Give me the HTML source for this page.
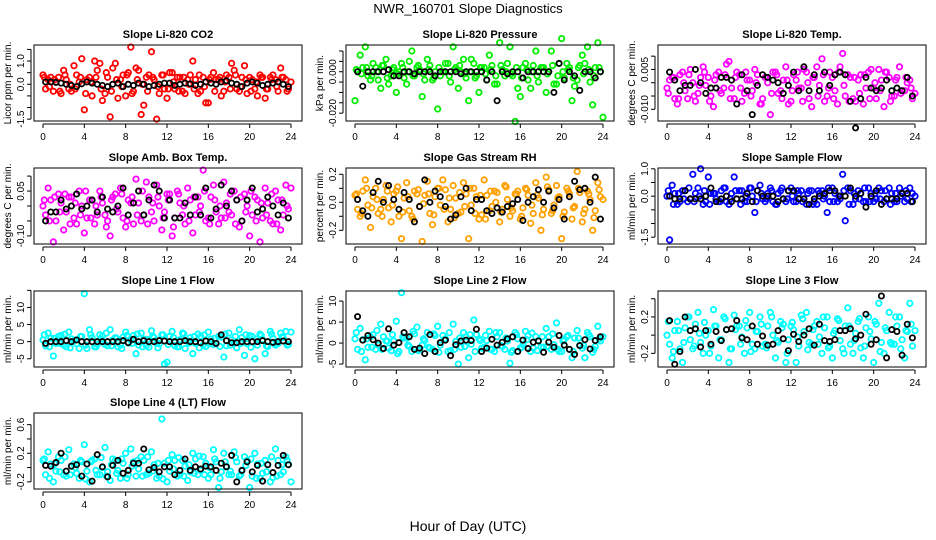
<!DOCTYPE html>
<html><head><meta charset="utf-8">
<style>
html,body{margin:0;padding:0;background:#fff;}
svg{display:block;font-family:"Liberation Sans",sans-serif;}
</style></head>
<body>
<svg id="chart" width="936" height="540" viewBox="0 0 936 540" xmlns="http://www.w3.org/2000/svg">
<rect width="936" height="540" fill="#fff"/>
<text x="468" y="13" text-anchor="middle" font-size="13">NWR_160701  Slope Diagnostics</text>
<text x="468" y="531" text-anchor="middle" font-size="14">Hour of Day (UTC)</text>
</svg>
<script>
const hoursA=[0,0.5,1,1.5,2,2.5,3,3.5,4,4.5,5,5.5,6,6.5,7,7.5,8,8.5,9,9.5,10,10.5,11,11.5,12,12.5,13,13.5,14,14.5,15,15.5,16,16.5,17,17.5,18,18.5,19,19.5,20,20.5,21,21.5,22,22.5,23,23.5,24];
const hoursB=[0.25,0.75,1.25,1.75,2.25,2.75,3.25,3.75,4.25,4.75,5.25,5.75,6.25,6.75,7.25,7.75,8.25,8.75,9.25,9.75,10.25,10.75,11.25,11.75,12.25,12.75,13.25,13.75,14.25,14.75,15.25,15.75,16.25,16.75,17.25,17.75,18.25,18.75,19.25,19.75,20.25,20.75,21.25,21.75,22.25,22.75,23.25,23.75];
const hoursC=[0.125,0.625,1.125,1.625,2.125,2.625,3.125,3.625,4.125,4.625,5.125,5.625,6.125,6.625,7.125,7.625,8.125,8.625,9.125,9.625,10.125,10.625,11.125,11.625,12.125,12.625,13.125,13.625,14.125,14.625,15.125,15.625,16.125,16.625,17.125,17.625,18.125,18.625,19.125,19.625,20.125,20.625,21.125,21.625,22.125,22.625,23.125,23.625];
const xTicks=[0,4,8,12,16,20,24];

const co2A=[0.4,0.2,-0.3,0.3,0.6,-0.2,0.8,0.1,-1.1,0.3,1.0,0.9,-0.4,-1.4,0.9,0.2,-0.5,1.6,0.7,-1.3,0.3,1.4,-1.5,0.4,-0.6,0.5,0.3,-0.3,0.2,1.0,-0.4,0.3,-0.8,0.5,0.2,-0.3,0.3,0.6,-0.3,0.8,0.3,-0.2,0.4,-0.6,0.3,0.2,0.7,0.2,0.1];
const co2B=[-0.2,0.3,0.1,-0.4,0.2,-0.3,0.4,1.1,0.2,-0.5,0.6,-0.7,0.3,0.7,-0.6,0.4,0.5,-0.3,0.6,-0.9,0.4,0.2,-0.4,-0.2,0.5,-0.2,0.3,-0.4,0.4,0.2,-0.3,-0.8,0.3,0.2,-0.5,0.4,0.9,-0.2,0.3,-0.4,0.2,-0.5,0.3,-0.2,0.4,-0.3,0.3,-0.2];
const co2C=[0.3,-0.1,0.2,-0.3,0.4,0.0,-0.2,0.3,-0.4,0.1,0.3,-0.2,0.5,-0.3,0.2,-0.1,0.4,-0.4,0.2,0.0,-0.3,0.3,-0.1,0.4,-0.2,0.1,-0.3,0.3,0.0,-0.2,0.4,-0.1,0.2,-0.3,0.3,0.1,-0.2,0.4,-0.1,0.2,-0.3,0.1,0.3,-0.2,0.2,-0.1,0.3,-0.3];
const co2K=[0.1,0.1,0.08,0.05,0,-0.05,-0.1,0.02,0.1,0.05,0,-0.05,-0.1,0.0,0.05,-0.1,0,-0.05,0.05,0,-0.1,-0.05,0,0.05,0.05,-0.05,0,0.05,0.02,-0.05,0,0.1,0.05,0,0.1,0.15,0.05,0,-0.1,0.05,0.1,0.05,-0.05,0,0.05,0.1,0,-0.1];

const presA=[-0.014,0.008,0.012,-0.004,0.002,-0.008,0.006,-0.002,-0.010,0.004,-0.006,0.010,0.002,-0.012,0.006,-0.004,-0.018,0.000,0.004,0.012,-0.008,0.006,-0.014,0.004,-0.010,0.002,0.008,-0.006,0.014,-0.002,0.012,-0.024,-0.012,0.004,-0.008,0.010,0.002,-0.010,0.010,-0.006,0.016,0.004,-0.014,-0.004,0.008,0.012,-0.016,0.014,-0.022];
const presB=[0,0.002,-0.002,0.004,-0.004,0.003,-0.006,0.002,0,-0.003,0.005,-0.002,0.001,-0.004,0.003,0,-0.002,0.004,-0.005,0.002,0,-0.003,0.006,-0.002,0.002,-0.004,0.003,-0.006,0.001,0.004,-0.002,-0.008,0.002,-0.004,0.003,-0.005,0.002,0,-0.006,0.004,-0.003,0.002,-0.007,0.003,0.004,-0.005,0.002,0];
const presC=[0.001,-0.001,0.002,-0.002,0,0.003,-0.003,0.001,-0.001,0.002,0,-0.002,0.003,-0.001,0.001,-0.003,0.002,0,-0.002,0.001,0.003,-0.001,0,-0.003,0.002,-0.001,0.001,-0.002,0.003,0,-0.001,0.002,-0.003,0.001,0,-0.002,0.002,-0.001,0.003,-0.002,0,0.001,-0.003,0.002,-0.001,0.001,-0.002,0.002];
const presK=[0,-0.007,0,0,0,0,0.001,-0.002,-0.002,0,0,-0.001,0,0,0,-0.002,0,0,0,0,-0.001,0,0,0,0,-0.004,0,-0.014,0,-0.001,0,0,-0.003,0,0,0,0,0,-0.010,0.004,-0.004,0,-0.002,-0.009,0,0,-0.003,0];

const tempA=[-0.002,0.002,-0.008,0.004,-0.006,0.000,-0.004,0.006,0.002,-0.009,0.004,-0.002,0.008,-0.006,0.003,-0.004,0.001,0.005,-0.008,0.002,-0.012,0.004,-0.003,0.006,-0.007,0.001,-0.002,0.004,-0.009,0.006,0.009,-0.005,0.002,-0.008,0.011,0.003,-0.006,0.001,-0.008,0.004,-0.002,0.005,-0.009,0.002,-0.005,0.006,-0.003,0.001,-0.004];
const tempB=[0.001,-0.006,0.003,-0.003,0.005,-0.007,0.002,-0.001,-0.005,0.003,-0.004,0.007,-0.002,0.004,-0.007,0.001,-0.003,0.003,-0.006,0.000,0.004,-0.004,0.001,-0.008,0.003,-0.002,0.005,-0.006,0.002,-0.001,-0.007,0.004,-0.003,0.006,-0.005,0.002,-0.007,0.003,-0.002,0.005,-0.006,0.001,0.004,-0.005,0.002,-0.003,0.000,-0.006];
const tempC=[-0.004,0.002,-0.006,0.000,0.003,-0.005,-0.001,0.004,-0.007,0.001,-0.003,0.003,-0.006,0.002,-0.002,0.004,-0.005,0.000,-0.008,0.002,-0.004,0.003,-0.006,0.001,-0.003,0.004,-0.007,0.000,0.002,-0.005,0.003,-0.002,-0.006,0.004,-0.001,-0.007,0.002,-0.004,0.003,-0.006,0.000,-0.003,0.004,-0.007,0.001,-0.004,0.002,-0.002];
const tempK=[0.004,0.001,-0.003,-0.001,-0.001,0.005,0.000,-0.004,-0.002,-0.002,0.002,0.002,0.001,-0.008,0.003,-0.003,-0.012,-0.001,0.003,0.002,0.001,0.000,-0.004,-0.001,0.004,-0.003,0.006,-0.003,0.003,-0.003,0.004,-0.001,0.003,0.004,0.003,-0.007,-0.017,-0.006,0.002,-0.002,-0.003,-0.002,0.001,-0.003,-0.002,-0.003,0.002,-0.005];

const ambA=[0.0,0.06,-0.12,0.04,-0.08,0.03,-0.04,0.05,-0.09,0.02,-0.06,0.05,-0.03,-0.1,0.04,0.06,-0.07,0.01,0.09,-0.05,0.08,-0.02,0.07,-0.08,0.04,-0.1,0.05,-0.03,0.06,-0.09,0.03,0.12,-0.04,0.07,-0.06,0.08,-0.02,0.05,-0.07,0.04,-0.1,0.03,-0.12,0.06,-0.05,0.05,-0.08,0.07,0.06];
const ambB=[-0.03,0.02,-0.05,0.01,-0.02,0.03,-0.06,0.0,-0.04,0.02,-0.03,0.01,-0.05,0.03,-0.02,-0.04,0.02,-0.06,0.01,-0.03,0.03,-0.05,0.0,-0.02,0.04,-0.04,0.01,-0.06,0.02,-0.03,0.0,-0.05,0.03,-0.02,-0.04,0.01,-0.03,0.02,-0.05,0.0,-0.03,0.02,-0.04,0.01,-0.06,0.02,-0.03,-0.01];
const ambC=[0.02,-0.05,0.03,-0.02,0.04,-0.06,0.01,-0.03,0.05,-0.04,0.0,0.03,-0.07,0.02,-0.01,0.04,-0.05,0.03,-0.03,0.05,-0.06,0.01,0.03,-0.04,0.02,-0.07,0.04,0.0,-0.05,0.03,-0.02,0.05,-0.06,0.02,0.0,-0.04,0.04,-0.06,0.03,-0.02,0.05,-0.05,0.01,-0.03,0.04,-0.06,0.02,0.0];
const ambK=[-0.05,-0.02,-0.02,0.02,-0.01,0.0,0.04,-0.01,0.0,0.02,-0.02,0.03,-0.01,-0.02,0.0,0.06,-0.03,0.01,0.05,-0.03,0.02,0.07,0.05,-0.04,0.02,-0.04,-0.04,0.01,-0.03,0.03,-0.03,0.06,-0.04,-0.01,0.07,0.0,0.05,0.02,-0.05,0.02,0.06,-0.02,-0.01,0.03,0.0,-0.03,0.01,-0.04];

const rhA=[0.05,-0.1,0.16,-0.18,0.1,-0.05,0.12,-0.14,0.08,-0.26,0.14,-0.1,0.06,-0.28,0.15,-0.16,0.1,0.16,-0.14,0.12,-0.08,0.14,-0.26,0.1,-0.12,0.16,-0.06,0.08,-0.14,0.12,-0.1,0.06,-0.12,0.1,-0.15,0.14,-0.2,0.18,-0.08,0.12,-0.26,0.1,-0.12,0.22,-0.14,0.08,-0.2,0.14,0.02];
const rhB=[-0.05,0.08,-0.02,0.04,-0.08,0.02,-0.04,0.06,-0.1,0.03,-0.06,0.08,-0.03,0.05,-0.08,0.04,-0.02,0.09,-0.05,0.03,-0.07,0.06,-0.02,0.04,-0.09,0.05,-0.03,0.07,-0.05,0.02,-0.06,0.08,-0.04,0.05,-0.08,0.03,-0.05,0.09,-0.02,0.04,-0.07,0.06,-0.03,0.07,-0.05,0.02,-0.06,0.04];
const rhC=[0.06,-0.08,0.1,-0.04,0.02,-0.1,0.08,-0.02,0.11,-0.07,0.04,-0.12,0.09,-0.01,0.06,-0.09,0.1,-0.05,0.03,-0.11,0.07,-0.03,0.1,-0.08,0.05,-0.12,0.08,0.0,-0.07,0.11,-0.04,0.06,-0.1,0.09,-0.02,0.05,-0.09,0.11,-0.06,0.03,-0.1,0.08,-0.04,0.1,-0.08,0.06,-0.11,0.09];
const rhK=[0.02,-0.06,-0.1,0.07,0.15,0.0,0.12,0.02,-0.05,0.07,0.02,-0.14,-0.03,0.16,0.0,0.08,0.04,-0.03,-0.12,-0.09,0.04,0.1,-0.06,0.02,0.02,-0.06,-0.08,-0.04,-0.07,-0.03,-0.01,0.02,-0.13,0.0,0.04,0.09,0.0,0.08,-0.04,0.02,-0.12,0.04,0.15,0.09,0.1,0.0,0.18,-0.12];

const sampA=[0.0,0.4,-0.3,0.2,-0.2,0.8,0.3,-0.3,0.7,0.1,-0.2,0.3,-0.3,0.7,0.2,-0.2,0.3,-0.6,0.4,-0.2,0.3,-0.3,0.2,-0.2,0.3,-0.2,0.2,-0.3,0.2,-0.3,0.2,-0.6,0.3,-0.2,0.8,0.3,-0.3,0.2,-0.2,0.3,-0.2,0.3,-0.2,0.3,-0.2,0.3,-0.2,0.3,0.0];
const sampB=[-1.6,0.1,-0.2,0.2,-0.1,0.1,1.0,-0.2,0.1,-0.1,0.2,-0.2,0.1,-0.1,0.2,-0.2,0.0,0.2,-0.1,0.1,-0.2,0.1,-0.1,0.2,-0.2,0.1,-0.1,0.2,-0.2,0.1,0.0,-0.2,0.1,-0.1,-0.9,0.2,-0.1,0.1,-0.2,0.1,-0.1,0.2,-0.1,0.1,-0.2,0.1,-0.1,0.1];
const sampC=[0.2,-0.3,0.1,-0.1,0.3,-0.2,0.0,0.2,-0.3,0.1,-0.2,0.3,-0.1,0.2,-0.3,0.0,0.3,-0.2,0.1,-0.1,0.2,-0.3,0.3,-0.1,0.0,0.2,-0.2,0.1,-0.3,0.2,-0.1,0.3,-0.2,0.0,0.2,-0.3,0.1,-0.1,0.3,-0.2,0.1,-0.1,0.2,-0.3,0.1,0.0,0.2,-0.2];
const sampK=[0.0,-0.1,-0.1,0.2,-0.1,-0.1,-0.1,0.0,0.3,-0.2,-0.1,0.0,-0.2,-0.1,-0.1,0.1,-0.2,0.2,0.0,0.0,0.0,-0.2,-0.1,0.2,0.2,-0.1,-0.1,-0.3,-0.1,0.0,0.1,0.2,0.2,0.0,0.0,0.3,0.0,0.1,-0.4,0.0,0.2,-0.3,-0.1,-0.1,-0.1,0.1,0.1,-0.2];

const l1A=[0.5,2.5,-4.2,1.5,-1.0,2.8,0.2,-2.0,14.0,3.5,-1.5,2.0,-0.8,3.5,1.2,-1.0,2.8,0.4,-3.5,2.5,-1.2,3.2,-0.5,2.0,-6.0,3.0,-1.5,2.5,0.2,-3.5,2.2,-1.0,2.8,-0.8,1.5,-4.5,2.5,-0.5,3.5,-4.0,1.8,-5.0,2.2,-3.5,3.0,-1.0,2.5,3.0,2.8];
const l1B=[-1.2,1.0,-0.5,1.8,-1.5,0.8,-0.6,1.5,-2.0,1.2,-0.8,1.6,-1.2,0.5,-1.5,1.3,-0.4,1.8,-1.0,0.8,-1.6,1.2,-0.6,-6.5,1.5,-1.2,0.6,-2.0,1.2,-0.5,1.6,-1.4,0.8,-0.6,1.3,-1.2,0.5,-1.8,1.2,-0.6,1.5,-1.0,0.6,-1.4,1.0,-0.5,1.2,-0.8];
const l1C=[2.0,-1.5,1.0,-0.5,2.2,-1.8,0.5,1.5,-1.0,2.0,-1.5,0.8,2.5,-1.2,1.0,-2.0,1.8,-0.5,2.2,-1.5,0.6,1.6,-1.8,2.0,-0.8,1.2,-1.5,2.3,-0.4,1.5,-1.8,2.0,-0.6,1.0,-1.4,2.2,-1.0,1.5,-0.5,2.0,-1.6,0.8,1.8,-1.2,2.2,-0.6,1.4,-1.0];
const l1K=[-0.5,0,0,0,0.3,0,0.5,0,0,0,0,0,0,0,0,0.3,-0.3,0.7,0,0.3,0,0,0.3,0.2,0,0,0,0.3,0,0,-0.3,0.2,0,-0.5,2.0,0.3,-0.3,-0.3,0,0,0,0,0.3,0,-0.2,0,0.2,0];

const l2A=[1.0,3.5,-4.0,1.5,-1.5,4.5,0.5,-1.8,5.2,12.0,1.2,-2.0,3.8,-0.5,2.5,-1.5,4.0,1.8,-2.0,4.5,-5.0,2.5,-3.5,5.5,1.0,-1.0,2.8,-2.0,2.5,-1.5,-4.8,2.5,-1.2,2.8,-2.0,1.5,-1.0,3.5,-1.5,4.8,-2.0,1.5,-3.5,3.0,-1.2,2.5,-2.2,4.0,1.5];
const l2B=[-1.5,0.8,-1.0,2.0,-0.5,1.5,-1.2,0.5,-2.0,1.2,-0.8,2.2,-1.5,0.6,-1.2,1.8,-0.5,1.0,-1.8,0.4,-1.0,1.5,-0.3,2.0,-1.2,0.6,-1.5,1.5,-0.8,0.5,-1.8,1.0,-0.4,1.8,-1.2,0.6,-1.0,1.5,-0.4,-2.0,0.8,-1.5,1.2,-0.5,-3.5,1.5,-0.8,0.5];
const l2C=[2.5,-2.0,1.0,-1.0,3.0,-1.5,0.5,2.0,-2.5,1.5,-0.5,2.8,-1.8,1.0,-1.0,2.2,-2.2,0.8,2.5,-1.5,1.2,-0.8,2.0,-2.0,0.6,1.8,-1.5,2.5,-0.6,1.2,-2.2,2.0,-1.0,0.8,2.4,-1.8,1.5,-0.8,2.2,-1.5,0.5,1.8,-2.0,1.2,-0.6,2.0,-1.5,1.0];
const l2K=[6.3,0.7,1.8,0.8,0,-1.3,3.4,-0.5,0.1,2.5,1.5,-1.5,-1.2,-2.5,2.0,-2.0,0.1,0.7,-3.0,-0.4,0.5,0.7,0.6,3.3,-2.0,-1.2,0.9,-0.5,0.2,1.0,1.5,-2.0,0.7,-1.3,0.2,0.5,-2.2,0.2,-1.0,1.8,-0.5,-1.5,-2.7,-0.6,0.8,-1.4,0.6,1.5];

const l3A=[0.0,-0.25,0.15,-0.3,0.2,-0.15,0.25,-0.2,0.05,0.28,-0.25,0.2,-0.3,0.22,0.1,-0.2,0.25,-0.15,0.2,-0.1,0.25,-0.25,0.15,-0.3,0.1,-0.3,0.22,0.25,-0.1,0.15,-0.2,0.2,-0.25,0.18,-0.15,0.3,-0.2,0.15,-0.25,0.2,-0.3,0.35,-0.2,0.25,-0.1,0.2,-0.25,0.35,0.05];
const l3B=[-0.1,0.05,-0.15,0.08,-0.05,0.12,-0.08,0.0,-0.12,0.1,-0.05,0.06,-0.15,0.1,-0.02,0.08,-0.1,0.04,-0.12,0.1,0.0,-0.08,0.12,-0.05,0.06,-0.12,0.04,-0.08,0.1,-0.02,0.08,-0.12,0.05,-0.06,0.1,-0.1,0.02,-0.14,0.08,-0.04,0.12,-0.08,0.05,-0.1,0.1,-0.05,0.04,-0.12];
const l3C=[0.15,-0.18,0.05,-0.08,0.2,-0.12,0.02,0.14,-0.2,0.1,-0.05,0.18,-0.15,0.06,-0.1,0.16,-0.18,0.04,0.12,-0.14,0.2,-0.06,0.08,-0.2,0.14,-0.02,0.18,-0.16,0.06,-0.1,0.2,-0.14,0.02,0.16,-0.2,0.1,-0.06,0.18,-0.12,0.04,0.15,-0.18,0.08,-0.08,0.2,-0.15,0.05,0.12];
const l3K=[0.16,-0.32,-0.18,0.2,0.05,0.07,-0.13,0.05,-0.1,0.04,-0.06,0.06,0.07,0.16,-0.03,-0.05,0.1,-0.1,-0.01,-0.11,-0.1,0.05,-0.04,-0.17,0.01,-0.07,0.0,0.07,-0.11,0.12,-0.06,-0.07,-0.05,0.05,0.05,0.07,-0.04,0.0,0.23,-0.1,-0.05,0.43,-0.25,0.06,0.04,-0.22,0.12,-0.03];

const l4A=[0.1,0.22,-0.2,0.15,-0.1,0.25,0.05,-0.15,0.32,-0.2,0.12,-0.1,0.28,-0.18,0.1,-0.15,0.2,0.26,-0.12,0.15,-0.1,0.22,-0.15,0.68,-0.2,0.18,-0.12,0.1,-0.18,0.2,-0.1,0.15,-0.15,0.25,-0.28,0.2,-0.1,0.22,-0.12,0.15,-0.28,0.2,-0.15,0.1,-0.2,0.26,-0.1,0.15,-0.2];
const l4B=[-0.1,0.05,-0.05,0.1,-0.12,0.02,-0.08,0.08,-0.05,0.1,-0.1,0.0,-0.06,0.12,-0.04,0.06,-0.1,0.08,-0.02,0.1,-0.08,0.04,-0.12,0.06,-0.05,0.1,-0.1,0.02,-0.06,0.12,-0.04,0.06,-0.1,0.08,-0.06,0.02,-0.1,0.08,-0.04,0.1,-0.12,0.05,-0.08,0.04,-0.14,0.1,-0.06,0.04];
const l4C=[0.12,-0.15,0.05,-0.06,0.15,-0.1,0.0,0.1,-0.16,0.08,-0.04,0.14,-0.12,0.04,-0.08,0.12,-0.15,0.02,0.1,-0.12,0.15,-0.05,0.06,-0.16,0.1,-0.02,0.14,-0.12,0.04,-0.08,0.16,-0.1,0.0,0.12,-0.15,0.08,-0.05,0.14,-0.1,0.03,0.12,-0.15,0.06,-0.06,0.15,-0.12,0.04,0.1];
const l4K=[0.03,0.02,0.07,0.2,-0.05,0.02,0.04,-0.12,0.05,-0.19,0.18,0.01,-0.13,0.03,0.1,-0.08,-0.04,0.06,0.06,0.26,-0.03,0.0,-0.06,0.01,0.01,-0.1,-0.04,0.12,-0.04,0.01,-0.02,0.02,0.01,-0.04,0.06,0.01,0.17,-0.2,-0.04,0.08,-0.06,0.03,-0.19,0.04,-0.07,0.03,0.17,0.04];

const co2Ticks=[-1.5,-1.0,-0.5,0,0.5,1.0,1.5], co2Labels=["-1.5","","","0.0","","1.0",""];
const presTicks=[-0.02,-0.015,-0.01,-0.005,0,0.005,0.01], presLabels=["-0.020","","","","0.000","",""];
const tempTicks=[-0.01,-0.005,0,0.005,0.01], tempLabels=["-0.010","","","0.005",""];
const ambTicks=[-0.1,-0.05,0,0.05,0.1], ambLabels=["-0.10","","","0.05",""];
const rhTicks=[-0.2,-0.1,0,0.1,0.2], rhLabels=["-0.2","","0.0","","0.2"];
const sampTicks=[-1.5,-1.0,-0.5,0,0.5,1.0], sampLabels=["-1.5","","","0.0","","1.0"];
const l1Ticks=[-5,0,5,10,15], l1Labels=["-5","0","5","10",""];
const l2Ticks=[-5,0,5,10], l2Labels=["-5","0","5","10"];
const l3Ticks=[-0.2,0,0.2,0.4], l3Labels=["-0.2","","0.2",""];
const l4Ticks=[-0.2,0,0.2,0.4,0.6], l4Labels=["-0.2","","0.2","","0.6"];

const panels=[
 {name:"co2",title:"Slope Li-820 CO2",ylab:"Licor ppm per min.",col:"#ff0000",dom:[-1.58,1.69],a:co2A,b:co2B,c:co2C,k:co2K,ticks:co2Ticks,labels:co2Labels},
 {name:"pressure",title:"Slope Li-820 Pressure",ylab:"kPa per min.",col:"#00ee00",dom:[-0.0238,0.0129],a:presA,b:presB,c:presC,k:presK,ticks:presTicks,labels:presLabels},
 {name:"temp",title:"Slope Li-820 Temp.",ylab:"degrees C per min.",col:"#ff00ff",dom:[-0.0144,0.0142],a:tempA,b:tempB,c:tempC,k:tempK,ticks:tempTicks,labels:tempLabels},
 {name:"amb-box-temp",title:"Slope Amb. Box Temp.",ylab:"degrees C per min.",col:"#ff00ff",dom:[-0.127,0.127],a:ambA,b:ambB,c:ambC,k:ambK,ticks:ambTicks,labels:ambLabels},
 {name:"gas-stream-rh",title:"Slope Gas Stream RH",ylab:"percent per min.",col:"#ffa000",dom:[-0.298,0.245],a:rhA,b:rhB,c:rhC,k:rhK,ticks:rhTicks,labels:rhLabels},
 {name:"sample-flow",title:"Slope Sample Flow",ylab:"ml/min per min.",col:"#0000ff",dom:[-1.75,1.03],a:sampA,b:sampB,c:sampC,k:sampK,ticks:sampTicks,labels:sampLabels},
 {name:"line1-flow",title:"Slope Line 1 Flow",ylab:"ml/min per min.",col:"#00ffff",dom:[-7.4,14.8],a:l1A,b:l1B,c:l1C,k:l1K,ticks:l1Ticks,labels:l1Labels},
 {name:"line2-flow",title:"Slope Line 2 Flow",ylab:"ml/min per min.",col:"#00ffff",dom:[-5.7,12.4],a:l2A,b:l2B,c:l2C,k:l2K,ticks:l2Ticks,labels:l2Labels},
 {name:"line3-flow",title:"Slope Line 3 Flow",ylab:"ml/min per min.",col:"#00ffff",dom:[-0.35,0.485],a:l3A,b:l3B,c:l3C,k:l3K,ticks:l3Ticks,labels:l3Labels},
 {name:"line4-flow",title:"Slope Line 4 (LT) Flow",ylab:"ml/min per min.",col:"#00ffff",dom:[-0.3,0.763],a:l4A,b:l4B,c:l4C,k:l4K,ticks:l4Ticks,labels:l4Labels}
];
const rowTops=[45,168,291,413];
const NS="http://www.w3.org/2000/svg";
const svg=document.getElementById("chart");
function mk(tag,attrs,parent){const e=document.createElementNS(NS,tag);for(const k in attrs)e.setAttribute(k,attrs[k]);parent.appendChild(e);return e;}

panels.forEach((p,i)=>{
  const c=i%3, r=Math.floor(i/3);
  const L=34+312*c, R=302+312*c, T=rowTops[r], B=T+76;
  const xs=h=>L+9+h*248/24;
  const ys=v=>B-(v-p.dom[0])/(p.dom[1]-p.dom[0])*76;
  const g=mk("g",{},svg);
  
  
  const t=mk("text",{x:(L+R)/2,y:T-7,"text-anchor":"middle","font-size":"11","font-weight":"bold"},g);
  t.textContent=p.title;
  
  
  const yl=mk("text",{transform:`translate(${L-23},${(T+B)/2}) rotate(-90)`,"text-anchor":"middle","font-size":"10"},g);
  yl.textContent=p.ylab;
  
  
  const pg=mk("g",{fill:"none",stroke:p.col,"stroke-width":"1.8"},g);
  
  
  p.a.forEach((v,j)=>{const e=mk("circle",{cx:xs(hoursA[j]),cy:ys(v),r:2.7},pg);
    
    });
  p.b.forEach((v,j)=>{const e=mk("circle",{cx:xs(hoursB[j]),cy:ys(v),r:2.7},pg);
    
    });
  p.c.forEach((v,j)=>{const e=mk("circle",{cx:xs(hoursC[j]),cy:ys(v),r:2.7},pg);
    
    });
  const kg=mk("g",{fill:"none",stroke:"#000","stroke-width":"1.8"},g);
  
  
  p.k.forEach((v,j)=>{const e=mk("circle",{cx:xs(hoursB[j]),cy:ys(v),r:2.6},kg);
    
    });
  const bx=mk("rect",{x:L,y:T,width:R-L,height:B-T,fill:"none",stroke:"#000","stroke-width":"1"},g);
  
  
  const xa=mk("g",{"font-size":"10"},g);
  
  
  mk("line",{x1:xs(xTicks[0]),x2:xs(xTicks[xTicks.length-1]),y1:B+3,y2:B+3,stroke:"#000"},xa);
  xTicks.forEach(h=>{
    mk("line",{x1:xs(h),x2:xs(h),y1:B+3,y2:B+7,stroke:"#000"},xa);
    const tx=mk("text",{x:xs(h),y:B+19,"text-anchor":"middle"},xa);
    tx.textContent=h;
    
    
  });
  const ya=mk("g",{"font-size":"10"},g);
  
  
  const tv=p.ticks.filter(v=>ys(v)>=T-1&&ys(v)<=B+1);
  mk("line",{x1:L-3,x2:L-3,y1:ys(tv[0]),y2:ys(tv[tv.length-1]),stroke:"#000"},ya);
  p.ticks.forEach((v,j)=>{
    const y=ys(v); if(y<T-1||y>B+1) return;
    mk("line",{x1:L-3,x2:L-7,y1:y,y2:y,stroke:"#000"},ya);
    if(p.labels[j]){
      const tx=mk("text",{transform:`translate(${L-10},${y}) rotate(-90)`,"text-anchor":"middle"},ya);
      tx.textContent=p.labels[j];
      
      
    }
  });
});
</script>
</body></html>
